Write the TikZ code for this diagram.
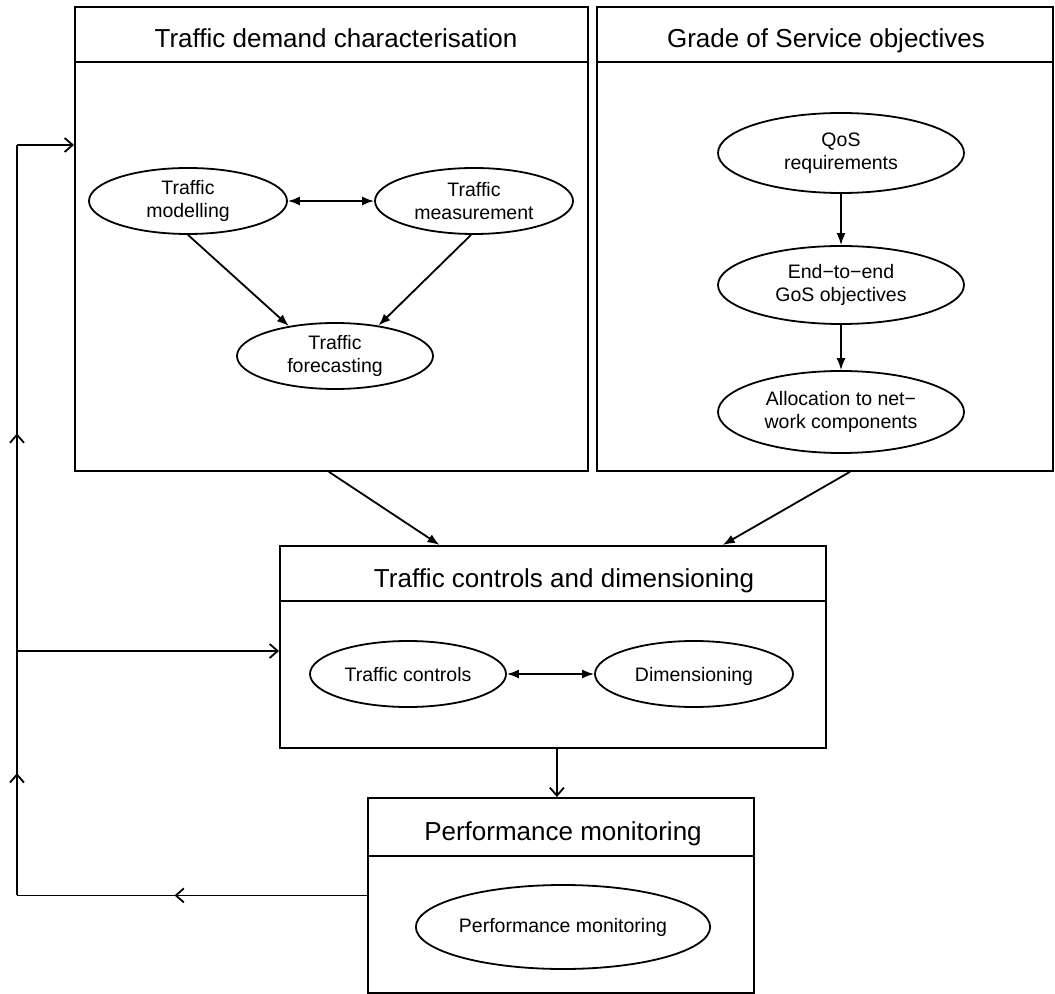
\documentclass[tikz,border=0pt]{standalone}
\usepackage{fontspec}
\setmainfont{Liberation Sans}
\usetikzlibrary{arrows.meta,shapes.geometric,calc,decorations.markings}
\tikzset{
  fbtip/.tip={Straight Barb[length=4pt,width=7pt]},
  boxstyle/.style={draw, rectangle, anchor=north west, inner sep=0pt},
  ell/.style={draw, ellipse, inner sep=0pt, align=center, font=\fontsize{9.75}{11.5}\selectfont},
  titlestyle/.style={font=\fontsize{13}{15}\selectfont, inner sep=0pt, anchor=base},
  arr/.style={-{Latex[length=6pt,width=4.5pt]}},
  darr/.style={{Latex[length=6pt,width=4.5pt]}-{Latex[length=6pt,width=4.5pt]}},
  fbarr/.style={-fbtip},
  midarr/.style={postaction={decorate}, decoration={markings, mark=at position #1 with {\arrow{fbtip}}}}
}
\begin{document}
\begin{tikzpicture}[x=0.5pt,y=-0.5pt, line width=0.9pt]
\useasboundingbox (0,0) rectangle (1055,994);
% boxes
\node[boxstyle, minimum width=256.5pt, minimum height=232pt] (b1) at (74,6) {};
\node[boxstyle, minimum width=228pt, minimum height=232pt] (b2) at (596,6) {};
\node[boxstyle, minimum width=273pt, minimum height=101pt] (b3) at (279,545) {};
\node[boxstyle, minimum width=193pt, minimum height=97.5pt] (b4) at (367,797) {};
\draw ($(b1.north west)+(0,56)$) -- ($(b1.north east)+(0,56)$);
\draw ($(b2.north west)+(0,56)$) -- ($(b2.north east)+(0,56)$);
\draw ($(b3.north west)+(0,56)$) -- ($(b3.north east)+(0,56)$);
\draw ($(b4.north west)+(0,59)$) -- ($(b4.north east)+(0,59)$);
% titles
\node[titlestyle] (t1) at (336,48) {Traffic demand characterisation};
\node[titlestyle] (t2) at (826,48) {Grade of Service objectives};
\node[titlestyle] (t3) at (564,587) {Traffic controls and dimensioning};
\node[titlestyle] (t4) at (563,840) {Performance monitoring};
% ellipses
\node[ell, minimum width=99pt, minimum height=33pt] (mod) at (188,201) {Traffic\\modelling};
\node[ell, minimum width=99pt, minimum height=33pt] (meas) at (474,201) {Traffic\\measurement};
\node[ell, minimum width=98pt, minimum height=33pt] (fore) at (335,356) {Traffic\\forecasting};
\node[ell, minimum width=123pt, minimum height=40pt] (qos) at (841,153) {QoS\\requirements};
\node[ell, minimum width=123pt, minimum height=39pt] (e2e) at (841,285) {End−to−end\\GoS objectives};
\node[ell, minimum width=123pt, minimum height=41pt] (alloc) at (841,412) {Allocation to net−\\work components};
\node[ell, minimum width=98pt, minimum height=33pt, text depth=0pt] (tc) at (408,674) {Traffic controls};
\node[ell, minimum width=99pt, minimum height=33pt, text depth=0pt] (dim) at (694,674) {Dimensioning};
\node[ell, minimum width=147pt, minimum height=42pt] (pm) at (563,927) {Performance monitoring};
% inner arrows
\draw[darr] (mod) -- (meas);
\draw[arr] (mod.south) -- (fore.147);
\draw[arr] (meas.265) -- (fore.35);
\draw[arr] (qos) -- (e2e);
\draw[arr] (e2e) -- (alloc);
\draw[darr] (tc) -- (dim);
% box arrows
\draw[arr] ($(b1.south west)!0.495!(b1.south east)$) -- ($(b3.north west)!0.293!(b3.north east)$);
\draw[arr] ($(b2.south west)!0.555!(b2.south east)$) -- ($(b3.north west)!0.81!(b3.north east)$);
\coordinate (c34) at ($(b3.south)+(4,0)$);
\draw[fbarr] (c34) -- (c34 |- b4.north);
% feedback
\coordinate (fbx) at (17,0);
\coordinate (fbm) at (17,651);
\coordinate (fbt) at (17,145);
\coordinate (fbl) at (b4.west -| fbx);
\draw[midarr=0.55] (b4.west) -- (fbl);
\draw[midarr=0.5] (fbl) -- (fbm);
\draw[midarr=0.43] (fbm) -- (fbt);
\draw[fbarr] (fbt) -- (fbt -| b1.west);
\draw[fbarr] (fbm) -- (fbm -| b3.west);
\end{tikzpicture}
\end{document}
